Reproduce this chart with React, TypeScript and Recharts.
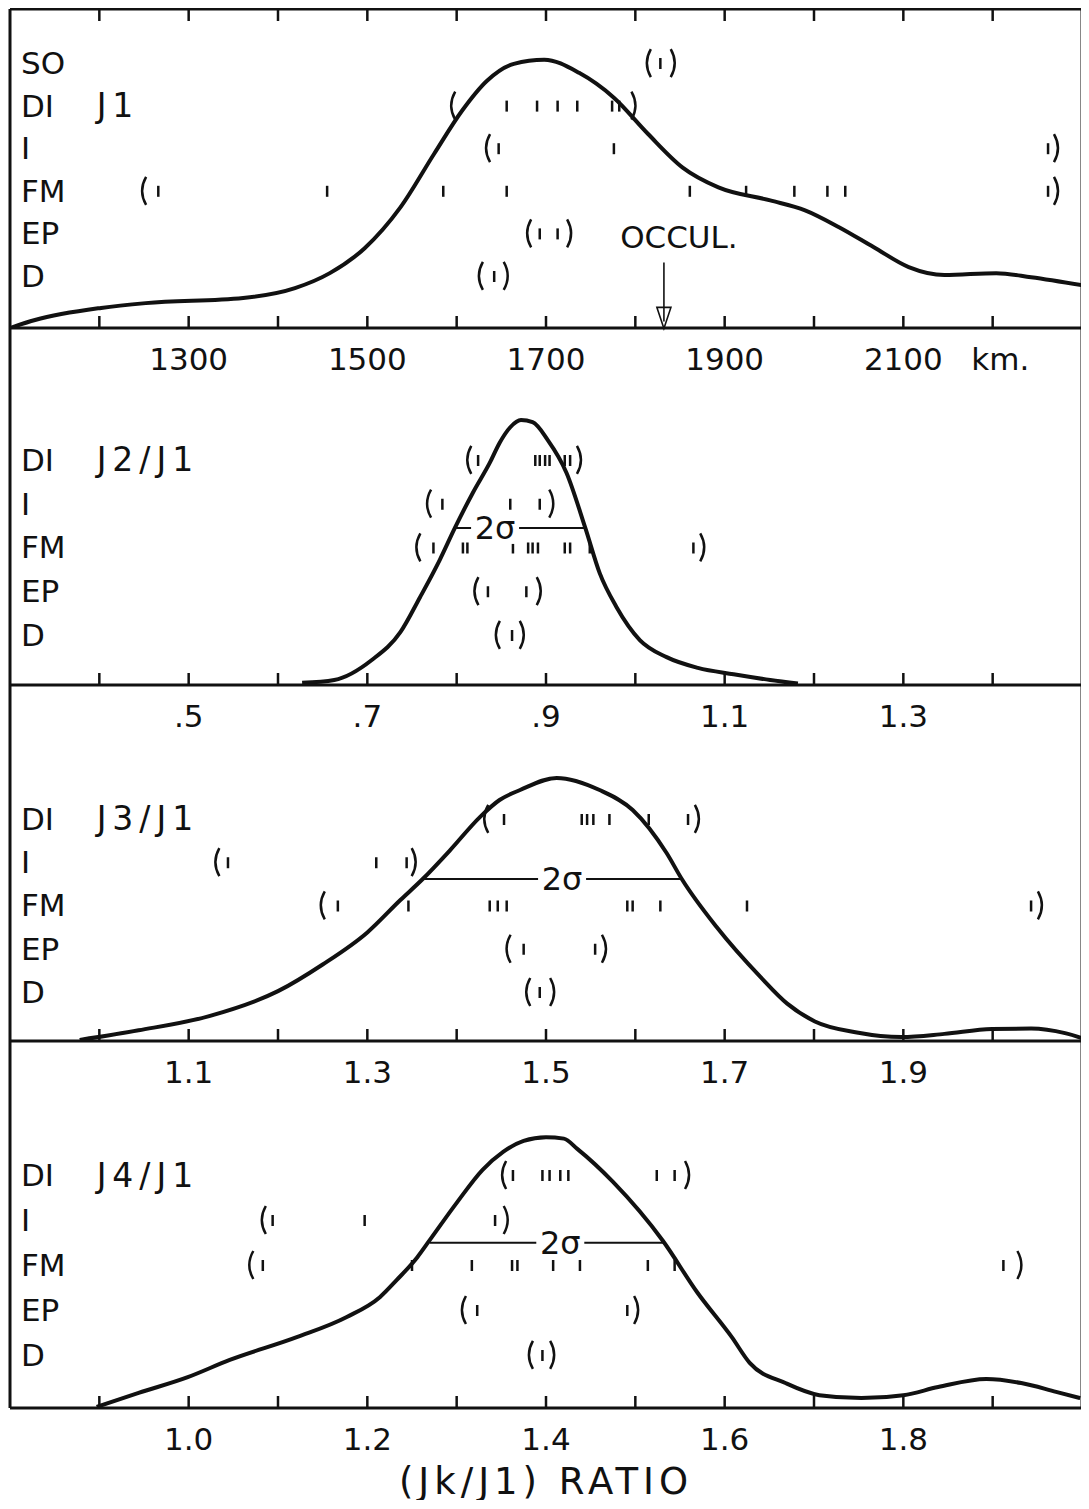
import React from "react";
import {
  ComposedChart,
  Line,
  Scatter,
  XAxis,
  YAxis,
  ReferenceLine,
  ReferenceDot,
  Label,
} from "recharts";

const FONT = "'DejaVu Sans', 'Liberation Sans', sans-serif";
const INK = "#111";

// observation rows, listed bottom to top
const ROWS = ["D", "EP", "FM", "I", "DI", "SO"];

// ---- J1 (km) ----
const J1_TICKS = [1200, 1300, 1400, 1500, 1600, 1700, 1800, 1900, 2000, 2100, 2200];
const J1_LABELS = [1300, 1500, 1700, 1900, 2100];
const J1_CURVE = [
  [1100, 0], [1128, 2.5], [1202, 6.3], [1252, 7.8], [1361, 9.4], [1419, 12.5],
  [1458, 17.2], [1497, 25], [1537, 37.8], [1575, 54.7], [1606, 68.1], [1634, 77.5],
  [1664, 82.8], [1698, 84.1], [1737, 80], [1776, 72.2], [1814, 60.9], [1853, 50.3],
  [1893, 44.1], [1951, 40], [1990, 36.9], [2028, 31.6], [2067, 25.3], [2106, 19.1],
  [2146, 16.6], [2204, 17.2], [2243, 15.9], [2300, 13.4],
];
const J1_MARKS = [
  { row: "SO", open: 1814, close: 1843, values: [1828] },
  { row: "DI", open: 1595, close: 1799, values: [1656, 1690, 1713, 1735, 1774, 1782] },
  { row: "I", open: 1634, close: 2272, values: [1647, 1776, 2262] },
  { row: "FM", open: 1249, close: 2272, values: [1266, 1455, 1585, 1656, 1861, 1924, 1978, 2015, 2035, 2262] },
  { row: "EP", open: 1680, close: 1727, values: [1693, 1713] },
  { row: "D", open: 1626, close: 1656, values: [1642] },
];
const OCCULTATION_KM = 1832;

// ---- J2/J1 ----
const J2_TICKS = [0.4, 0.5, 0.6, 0.7, 0.8, 0.9, 1.0, 1.1, 1.2, 1.3, 1.4];
const J2_LABELS = [0.5, 0.7, 0.9, 1.1, 1.3];
const J2_CURVE = [
  [0.627, 0.6], [0.663, 1.4], [0.705, 7.0], [0.737, 14.8], [0.759, 24.6], [0.781, 35.0],
  [0.798, 44.0], [0.818, 53.8], [0.837, 62.2], [0.848, 67.8], [0.86, 72.2], [0.872, 74.2],
  [0.885, 73.6], [0.902, 68.6], [0.923, 59.4], [0.944, 44.0], [0.96, 31.4], [0.979, 21.8],
  [1.005, 12.6], [1.035, 7.8], [1.07, 4.8], [1.11, 3.0], [1.151, 1.4], [1.182, 0.4],
];
const J2_MARKS = [
  { row: "DI", open: 0.813, close: 0.938, values: [0.824, 0.888, 0.893, 0.899, 0.904, 0.921, 0.927] },
  { row: "I", open: 0.768, close: 0.907, values: [0.784, 0.86, 0.893] },
  { row: "FM", open: 0.756, close: 1.076, values: [0.774, 0.807, 0.812, 0.863, 0.88, 0.885, 0.891, 0.921, 0.927, 0.949, 1.065] },
  { row: "EP", open: 0.821, close: 0.893, values: [0.835, 0.878] },
  { row: "D", open: 0.845, close: 0.874, values: [0.862] },
];
const J2_SIGMA = [0.798, 0.944, 44.0, 0.843]; // from, to, level, label

// ---- J3/J1 ----
const J3_TICKS = [1.0, 1.1, 1.2, 1.3, 1.4, 1.5, 1.6, 1.7, 1.8, 1.9, 2.0];
const J3_LABELS = [1.1, 1.3, 1.5, 1.7, 1.9];
const J3_CURVE = [
  [0.978, 0.3], [1.044, 3.0], [1.123, 7.0], [1.2, 14.0], [1.25, 21.5], [1.3, 30.5],
  [1.337, 39.6], [1.362, 45.5], [1.393, 53.7], [1.426, 62.9], [1.448, 67.7], [1.471, 70.5],
  [1.512, 73.9], [1.56, 70.5], [1.597, 64.9], [1.635, 52.8], [1.652, 45.5], [1.691, 32.0],
  [1.74, 18.0], [1.77, 10.5], [1.801, 5.5], [1.848, 2.4], [1.898, 1.1], [1.946, 2.0],
  [1.999, 3.4], [2.043, 3.5], [2.081, 2.2], [2.1, 0.8],
];
const J3_MARKS = [
  { row: "DI", open: 1.432, close: 1.67, values: [1.453, 1.54, 1.546, 1.553, 1.571, 1.615, 1.659] },
  { row: "I", open: 1.131, close: 1.353, values: [1.144, 1.31, 1.344] },
  { row: "FM", open: 1.249, close: 2.054, values: [1.267, 1.346, 1.437, 1.446, 1.456, 1.591, 1.597, 1.628, 1.725, 2.043] },
  { row: "EP", open: 1.457, close: 1.566, values: [1.475, 1.555] },
  { row: "D", open: 1.479, close: 1.508, values: [1.493] },
];
const J3_SIGMA = [1.362, 1.652, 45.5, 1.518];

// ---- J4/J1 ----
const J4_TICKS = [0.9, 1.0, 1.1, 1.2, 1.3, 1.4, 1.5, 1.6, 1.7, 1.8, 1.9];
const J4_LABELS = [1.0, 1.2, 1.4, 1.6, 1.8];
const J4_CURVE = [
  [0.897, 0.3], [0.944, 4.1], [0.999, 8.4], [1.046, 13.1], [1.121, 19.3], [1.177, 24.8],
  [1.214, 30.2], [1.233, 34.9], [1.256, 41.1], [1.27, 45.8], [1.3, 55.9], [1.329, 64.9],
  [1.352, 69.8], [1.375, 72.8], [1.4, 73.8], [1.42, 73.4], [1.435, 70.6], [1.475, 61.6],
  [1.531, 45.5], [1.569, 31.6], [1.608, 19.3], [1.628, 12.3], [1.668, 6.8], [1.706, 3.5],
  [1.753, 2.7], [1.8, 3.5], [1.839, 5.7], [1.893, 7.9], [1.932, 6.8], [1.971, 4.4], [1.998, 2.7],
];
const J4_MARKS = [
  { row: "DI", open: 1.352, close: 1.559, values: [1.363, 1.396, 1.404, 1.416, 1.425, 1.524, 1.544] },
  { row: "I", open: 1.083, close: 1.356, values: [1.094, 1.197, 1.343] },
  { row: "FM", open: 1.069, close: 1.931, values: [1.083, 1.25, 1.317, 1.362, 1.368, 1.408, 1.438, 1.514, 1.544, 1.912] },
  { row: "EP", open: 1.307, close: 1.502, values: [1.323, 1.491] },
  { row: "D", open: 1.382, close: 1.408, values: [1.396] },
];
const J4_SIGMA = [1.27, 1.531, 45.0, 1.416];

const fmtKm = (v: number) => String(v);
const fmtFrac = (v: number) => v.toFixed(1).replace(/^0/, "");
const fmtDec = (v: number) => v.toFixed(1);

const near = (a: number, b: number) => Math.abs(a - b) < 1e-6;

const bottomTick = (labels: number[], fmt: (v: number) => string, unitAt?: number) => (p: any) => {
  const { x, y, payload } = p;
  const v = payload.value;
  const lab = labels.find((l) => near(l, v));
  return (
    <g>
      <line x1={x} x2={x} y1={y} y2={y - 12} stroke={INK} strokeWidth={2.5} />
      {lab !== undefined && (
        <text x={x} y={y + 42} textAnchor="middle" fontSize={31} fontFamily={FONT} fill={INK}>
          {fmt(lab)}
        </text>
      )}
      {unitAt !== undefined && near(unitAt, v) && (
        <text x={x + 68} y={y + 42} textAnchor="start" fontSize={31} fontFamily={FONT} fill={INK}>
          km.
        </text>
      )}
    </g>
  );
};

const topTick = (p: any) => (
  <line x1={p.x} x2={p.x} y1={p.y} y2={p.y + 12} stroke={INK} strokeWidth={2.5} />
);

const MarkShape = (p: any) => {
  const { cx, cy } = p;
  const kind = p.payload?.kind ?? p.kind;
  if (cx == null || cy == null) return <g />;
  if (kind === "(")
    return <path d={`M${cx + 3},${cy - 14} Q${cx - 5},${cy} ${cx + 3},${cy + 14}`} fill="none" stroke={INK} strokeWidth={2.5} />;
  if (kind === ")")
    return <path d={`M${cx - 3},${cy - 14} Q${cx + 5},${cy} ${cx - 3},${cy + 14}`} fill="none" stroke={INK} strokeWidth={2.5} />;
  return <line x1={cx} x2={cx} y1={cy - 5} y2={cy + 6} stroke={INK} strokeWidth={2.5} />;
};

type Mark = { row: string; open: number; close: number; values: number[] };

type PanelProps = {
  curve: number[][];
  marks: Mark[];
  ticks: number[];
  labels: number[];
  fmt: (v: number) => string;
  domain: [number, number];
  rowsDomain: [number, number];
  rowCount: number;
  title: string;
  titleX: number;
  sigma?: number[];
  unitAt?: number;
  topAxis?: boolean;
  occul?: number;
  height: number;
  marginTop: number;
  axisHeight: number;
  axisTitle?: string;
};

function Panel(props: PanelProps) {
  const { curve, marks, ticks, labels, fmt, domain, rowsDomain, rowCount } = props;
  const curveData = curve.map(([x, d]) => ({ x, d }));
  const markData = marks.flatMap((m) => {
    const row = ROWS.indexOf(m.row) + 1;
    return [
      { x: m.open, row, kind: "(" },
      { x: m.close, row, kind: ")" },
      ...m.values.map((v) => ({ x: v, row, kind: "|" })),
    ];
  });
  const rowTicks = ROWS.slice(0, rowCount).map((_, i) => i + 1);
  const axisStroke = { stroke: INK, strokeWidth: 3 };

  return (
    <ComposedChart
      width={1078}
      height={props.height}
      margin={{ top: props.marginTop, right: 4, bottom: 0, left: 2 }}
    >
      {props.topAxis && (
        <XAxis
          xAxisId="t"
          orientation="top"
          type="number"
          dataKey="x"
          domain={domain}
          allowDataOverflow
          ticks={ticks}
          interval={0}
          height={1}
          tickSize={0}
          tickMargin={0}
          tickLine={false}
          axisLine={axisStroke}
          tick={topTick}
        />
      )}
      <XAxis
        xAxisId="b"
        type="number"
        dataKey="x"
        domain={domain}
        allowDataOverflow
        ticks={ticks}
        interval={0}
        height={props.axisHeight}
        tickSize={0}
        tickMargin={0}
        tickLine={false}
        axisLine={axisStroke}
        tick={bottomTick(labels, fmt, props.unitAt)}
      >
        {props.axisTitle && (
          <Label
            value={props.axisTitle}
            position="insideBottom"
            offset={6}
            fontSize={37}
            fontFamily={FONT}
            fill={INK}
            letterSpacing={5}
          />
        )}
      </XAxis>
      <YAxis
        yAxisId="rows"
        orientation="left"
        mirror
        type="number"
        dataKey="row"
        domain={rowsDomain}
        allowDataOverflow
        ticks={rowTicks}
        interval={0}
        width={60}
        tickSize={0}
        tickMargin={11}
        tickLine={false}
        axisLine={axisStroke}
        tickFormatter={(v: number) => ROWS[v - 1]}
        tick={{ fontSize: 31, fill: INK, fontFamily: FONT }}
      />
      <YAxis yAxisId="dens" type="number" domain={[0, 100]} allowDataOverflow hide />
      <YAxis
        yAxisId="frame"
        orientation="right"
        mirror
        type="number"
        domain={[0, 1]}
        width={1}
        tick={false}
        tickLine={false}
        axisLine={axisStroke}
      />
      <Line
        xAxisId="b"
        yAxisId="dens"
        data={curveData}
        dataKey="d"
        type="monotone"
        stroke={INK}
        strokeWidth={4}
        dot={false}
        activeDot={false}
        isAnimationActive={false}
      />
      <Scatter
        xAxisId="b"
        yAxisId="rows"
        data={markData}
        dataKey="row"
        shape={MarkShape}
        isAnimationActive={false}
      />
      {props.sigma && (
        <ReferenceLine
          xAxisId="b"
          yAxisId="dens"
          segment={[
            { x: props.sigma[0], y: props.sigma[2] },
            { x: props.sigma[1], y: props.sigma[2] },
          ]}
          stroke={INK}
          strokeWidth={2}
        />
      )}
      {props.sigma && (
        <ReferenceDot
          xAxisId="b"
          yAxisId="dens"
          x={props.sigma[3]}
          y={props.sigma[2]}
          r={1}
          shape={(p: any) => (
            <g>
              <rect x={p.cx - 24} y={p.cy - 16} width={48} height={32} fill="#fff" />
              <text x={p.cx} y={p.cy} textAnchor="middle" dominantBaseline="central" fontSize={32} fontFamily={FONT} fill={INK}>
                2σ
              </text>
            </g>
          )}
        />
      )}
      <ReferenceDot
        xAxisId="b"
        yAxisId="rows"
        x={props.titleX}
        y={5}
        r={1}
        shape={(p: any) => (
          <text x={p.cx} y={p.cy} dominantBaseline="central" fontSize={33} letterSpacing={6} fontFamily={FONT} fill={INK}>
            {props.title}
          </text>
        )}
      />
      {props.occul !== undefined && (
        <ReferenceDot
          xAxisId="b"
          yAxisId="rows"
          x={props.occul}
          y={2}
          r={1}
          shape={(p: any) => (
            <g stroke={INK} fill="none" strokeWidth={1.6}>
              <text x={p.cx + 15} y={p.cy + 4} textAnchor="middle" dominantBaseline="central" fontSize={31} fontFamily={FONT} fill={INK} stroke="none">
                OCCUL.
              </text>
              <line x1={p.cx} x2={p.cx} y1={p.cy + 29} y2={p.cy + 88} />
              <path d={`M${p.cx - 7},${p.cy + 74} L${p.cx},${p.cy + 95} L${p.cx + 7},${p.cy + 74} Z`} />
            </g>
          )}
        />
      )}
    </ComposedChart>
  );
}

export default function App() {
  return (
    <div style={{ position: "relative", width: 1078, height: 1492 }}>
      <style>{"svg { overflow: visible; }"}</style>
      <div style={{ position: "absolute", left: 0, top: 0 }}>
        <Panel
          curve={J1_CURVE}
          marks={J1_MARKS}
          ticks={J1_TICKS}
          labels={J1_LABELS}
          fmt={fmtKm}
          domain={[1100, 2300]}
          rowsDomain={[-0.221, 7.268]}
          rowCount={6}
          title="J1"
          titleX={1197}
          unitAt={2100}
          topAxis
          occul={OCCULTATION_KM}
          height={380}
          marginTop={0}
          axisHeight={60}
        />
      </div>
      <div style={{ position: "absolute", left: 0, top: 310 }}>
        <Panel
          curve={J2_CURVE}
          marks={J2_MARKS}
          ticks={J2_TICKS}
          labels={J2_LABELS}
          fmt={fmtFrac}
          domain={[0.3, 1.5]}
          rowsDomain={[-0.143, 8.017]}
          rowCount={5}
          title="J2/J1"
          titleX={0.397}
          sigma={J2_SIGMA}
          height={427}
          marginTop={10}
          axisHeight={60}
        />
      </div>
      <div style={{ position: "absolute", left: 0, top: 667 }}>
        <Panel
          curve={J3_CURVE}
          marks={J3_MARKS}
          ticks={J3_TICKS}
          labels={J3_LABELS}
          fmt={fmtDec}
          domain={[0.9, 2.1]}
          rowsDomain={[-0.133, 8.098]}
          rowCount={5}
          title="J3/J1"
          titleX={0.997}
          sigma={J3_SIGMA}
          height={426}
          marginTop={10}
          axisHeight={60}
        />
      </div>
      <div style={{ position: "absolute", left: 0, top: 1023 }}>
        <Panel
          curve={J4_CURVE}
          marks={J4_MARKS}
          ticks={J4_TICKS}
          labels={J4_LABELS}
          fmt={fmtDec}
          domain={[0.8, 2.0]}
          rowsDomain={[-0.178, 7.978]}
          rowCount={5}
          title="J4/J1"
          titleX={0.897}
          sigma={J4_SIGMA}
          height={469}
          marginTop={10}
          axisHeight={92}
          axisTitle="(Jk/J1) RATIO"
        />
      </div>
    </div>
  );
}
